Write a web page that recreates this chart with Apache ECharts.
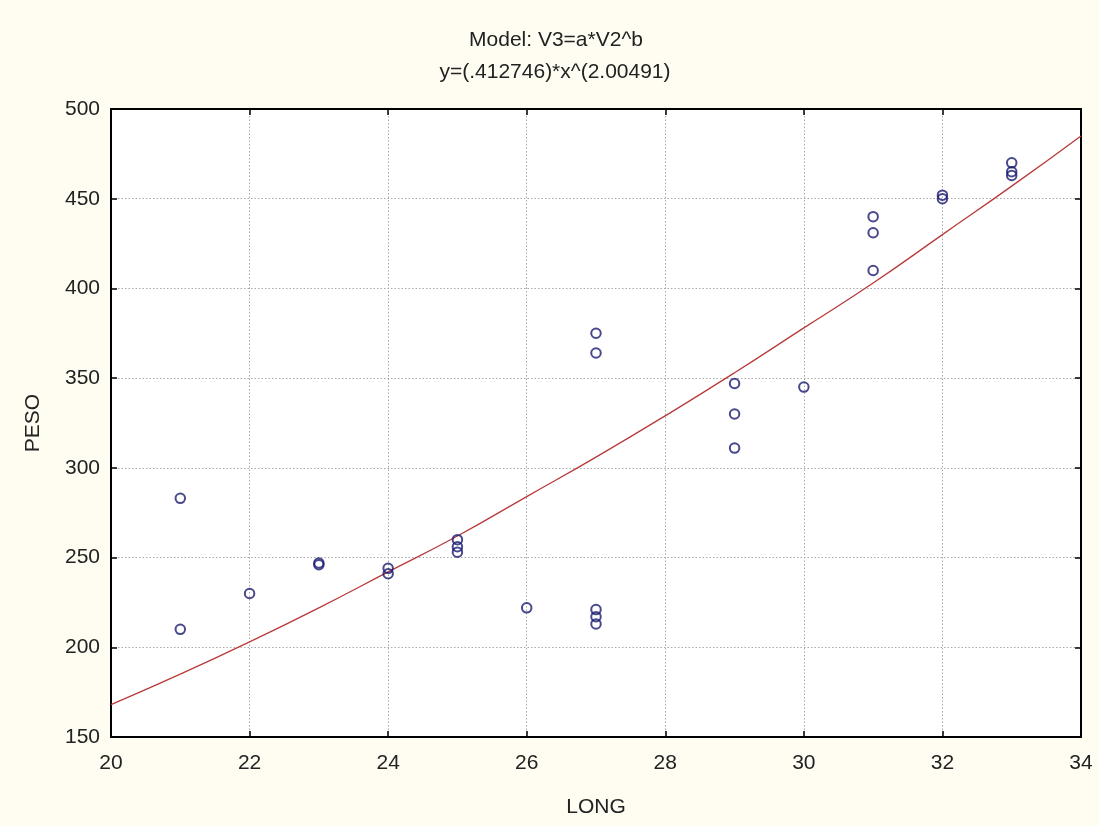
<!DOCTYPE html>
<html>
<head>
<meta charset="utf-8">
<script src="https://cdn.jsdelivr.net/npm/echarts@6/dist/echarts.min.js"></script>
<style>
html,body{margin:0;padding:0;background:#fffcf2;}
#chart{width:1099px;height:826px;}
</style>
</head>
<body>
<div id="chart"></div>
<script>
// Observed points (LONG, PESO)
var longVals = [21, 21, 22, 23, 23, 24, 24, 25, 25, 25, 26, 27, 27, 27, 27, 27, 29, 29, 29, 30, 31, 31, 31, 32, 32, 33, 33, 33];
var pesoVals = [283, 210, 230, 246, 247, 244, 241, 260, 256, 253, 222, 375, 364, 221, 217, 213, 347, 330, 311, 345, 440, 431, 410, 452, 450, 470, 465, 463];
// Fitted curve
var fitX = [20, 21, 22, 23, 24, 25, 26, 27, 28, 29, 30, 31, 32, 33, 34];
var fitY = [168, 185, 203, 222, 242, 262, 284, 306, 329, 353, 378, 403, 430, 457, 485];
var xTicks = [20, 22, 24, 26, 28, 30, 32, 34];
var yTicks = [150, 200, 250, 300, 350, 400, 450, 500];
var titleLines = ['Model: V3=a*V2^b', 'y=(.412746)*x^(2.00491)'];
var xName = 'LONG', yName = 'PESO';

var font = 'Arial, "Liberation Sans", sans-serif';
var txt = '#222';
var fs = 21;
var pts = longVals.map(function (v, i) { return [v, pesoVals[i]]; });
var fit = fitX.map(function (v, i) { return [v, fitY[i]]; });

var chart = echarts.init(document.getElementById('chart'));
var gridLine = { show: true, lineStyle: { color: '#a8a8a8', type: [1.5, 2], width: 1 } };
var axisLine = { show: true, lineStyle: { color: '#000', width: 2 } };
var axisTick = { show: true, inside: true, length: 6, lineStyle: { color: '#000', width: 1.5 } };

chart.setOption({
  backgroundColor: '#fffcf2',
  animation: false,
  graphic: [
    { type: 'text', x: 556, y: 40, style: { text: titleLines[0], font: fs + 'px ' + font, fill: txt, align: 'center', verticalAlign: 'middle' } },
    { type: 'text', x: 555, y: 72, style: { text: titleLines[1], font: fs + 'px ' + font, fill: txt, align: 'center', verticalAlign: 'middle' } }
  ],
  grid: { left: 111, right: 18, top: 109, bottom: 89, show: true, backgroundColor: '#ffffff', borderColor: '#000', borderWidth: 0 },
  xAxis: [
    { type: 'value', min: xTicks[0], max: xTicks[xTicks.length - 1], interval: 2, position: 'bottom',
      name: xName, nameLocation: 'middle', nameGap: 60, nameTextStyle: { fontSize: fs, fontFamily: font, color: txt },
      axisLine: axisLine, axisTick: axisTick, splitLine: gridLine,
      axisLabel: { fontSize: fs, fontFamily: font, color: txt, margin: 16 } },
    { type: 'value', min: xTicks[0], max: xTicks[xTicks.length - 1], interval: 2, position: 'top',
      axisLine: axisLine, axisTick: axisTick, splitLine: { show: false }, axisLabel: { show: false } }
  ],
  yAxis: [
    { type: 'value', min: yTicks[0], max: yTicks[yTicks.length - 1], interval: 50, position: 'left',
      name: yName, nameLocation: 'middle', nameGap: 67, nameTextStyle: { fontSize: fs, fontFamily: font, color: txt },
      axisLine: axisLine, axisTick: axisTick, splitLine: gridLine,
      axisLabel: { fontSize: fs, fontFamily: font, color: txt, margin: 11 } },
    { type: 'value', min: yTicks[0], max: yTicks[yTicks.length - 1], interval: 50, position: 'right',
      axisLine: axisLine, axisTick: axisTick, splitLine: { show: false }, axisLabel: { show: false } }
  ],
  series: [
    { type: 'line', data: fit, showSymbol: false, smooth: true, z: 2,
      lineStyle: { color: '#b83a3a', width: 1.3 } },
    { type: 'scatter', data: pts, symbol: 'circle', symbolSize: 9.5, z: 3,
      itemStyle: { color: 'rgba(0,0,0,0)', borderColor: '#1a1a70', borderWidth: 2 } }
  ]
});
</script>
</body>
</html>
